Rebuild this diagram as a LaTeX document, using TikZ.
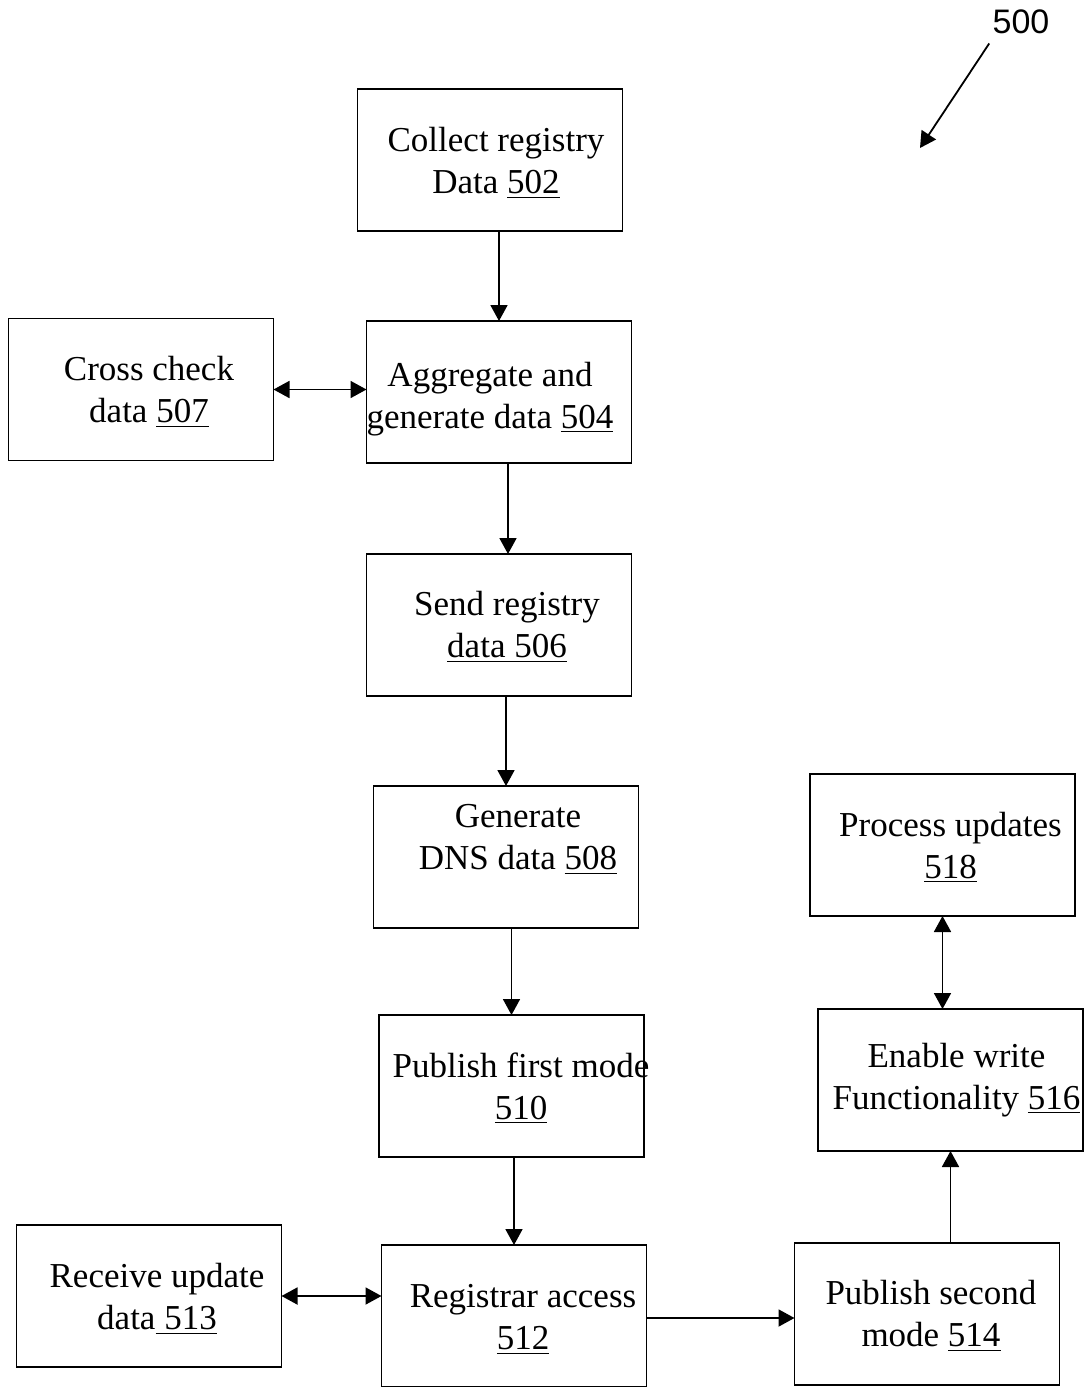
\documentclass[tikz,border=0pt]{standalone}
\usepackage{fontspec}
\setmainfont{Liberation Serif}
\newfontfamily\labelfont{Liberation Sans}
\usetikzlibrary{arrows.meta,positioning}

\begin{document}
\begin{tikzpicture}[
  node distance=45pt and 46.5pt,
  box/.style={rectangle,draw,line width=0.9pt,minimum width=132.5pt,minimum height=71pt,
    text width=132.5pt,inner sep=0pt,outer sep=0pt,align=center,font=\fontsize{17.5}{21}\selectfont},
  nudge/.style 2 args={execute at begin node={\spaceskip=\fontdimen2\font\relax
    \leftskip=#1 plus 1fill\rightskip=-#1 plus 1fill\vskip#2}},
  arrow/.style={-{Triangle[length=8pt,width=8.5pt]},line width=0.9pt},
  twoway/.style={{Triangle[length=8pt,width=8.5pt]}-{Triangle[length=8pt,width=8.5pt]},line width=0.9pt}
]
\useasboundingbox (0,0) rectangle (543pt,-693.5pt);
% main column
\node[box,nudge={3pt}{-6pt}] (collect) at (245pt,-80pt) {Collect registry\\Data \underline{502}};
\node[box,nudge={-4.5pt}{-1.5pt},below=of collect,xshift=4.5pt] (aggregate) {Aggregate and\\generate data \underline{504}};
\node[box,nudge={4pt}{-7pt},below=45.5pt of aggregate] (send) {Send registry\\\underline{data 506}};
\node[box,nudge={6pt}{-27pt},below=of send,xshift=3.5pt] (dns) {Generate\\DNS data \underline{508}};
\node[box,nudge={4.75pt}{-6.5pt},below=43.5pt of dns,xshift=2.75pt] (first) {Publish first mode\\\underline{510}};
\node[box,nudge={4.5pt}{-6pt},below=44pt of first,xshift=1.25pt] (registrar) {Registrar access\\\underline{512}};
% side boxes
\node[box,nudge={4pt}{-6.5pt},left=of aggregate,yshift=1.25pt] (cross) {Cross check\\data \underline{507}};
\node[box,nudge={4pt}{-6pt},left=50pt of registrar,yshift=10pt] (receive) {Receive update\\data\underline{ 513}};
\node[box,nudge={2pt}{-7pt},right=74pt of registrar,yshift=1pt] (second) {Publish second\\mode \underline{514}};
\node[box,nudge={3pt}{-8.5pt},above=46pt of second,xshift=11.75pt] (write) {Enable write\\Functionality \underline{516}};
\node[box,nudge={4pt}{-6.5pt},above=46.5pt of write,xshift=-4pt] (process) {Process updates\\\underline{518}};
% figure number
\node[font=\labelfont\fontsize{17}{20}\selectfont,inner sep=0pt] (fig) at (510.5pt,-11pt) {500};
\coordinate (figtip) at (460pt,-74pt);
\draw[arrow] ([xshift=-1.5pt,yshift=-4.5pt]fig.south west) -- (figtip);
% connectors
\draw[arrow] (collect.south -| aggregate.north) -- (aggregate.north);
\draw[arrow] ([xshift=4.5pt]aggregate.south) -- ([xshift=4.5pt]send.north);
\draw[arrow] (send.south -| dns.north) -- (dns.north);
\draw[arrow] (dns.south -| first.north) -- (first.north);
\draw[arrow] (first.south -| registrar.north) -- (registrar.north);
\draw[twoway] (cross) -- (cross -| aggregate.west);
\draw[twoway] (receive.east) -- (receive -| registrar.west);
\draw[arrow] ([yshift=-1pt]registrar.east) -- ([yshift=-1pt]registrar.east -| second.west);
\draw[arrow] (second.north -| write.south) -- (write.south);
\draw[twoway] (write.north -| process.south) -- (process.south);
\end{tikzpicture}
\end{document}
